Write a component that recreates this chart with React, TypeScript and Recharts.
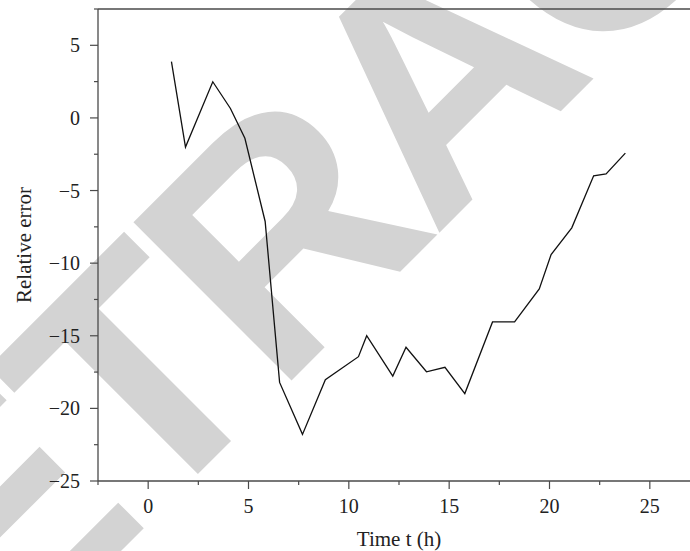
import React from 'react';
import { LineChart, Line, XAxis, YAxis, ReferenceLine } from 'recharts';

// Sampled relative error over time
const timeH = [
  1.16, 1.86, 3.22, 4.1, 4.82, 5.83, 6.55, 7.69, 8.83, 10.48, 10.89, 12.19,
  12.85, 13.87, 14.79, 15.78, 17.16, 18.26, 19.49, 20.08, 21.11, 22.2, 22.82, 23.78,
];
const relErr = [
  3.87, -2.01, 2.49, 0.65, -1.4, -7.13, -18.21, -21.79, -18.02, -16.44, -15.0, -17.78,
  -15.79, -17.48, -17.17, -18.98, -14.05, -14.05, -11.78, -9.41, -7.57, -3.99, -3.85, -2.42,
];

const xTicks = [-2.5, 0, 2.5, 5, 7.5, 10, 12.5, 15, 17.5, 20, 22.5, 25, 27.5];
const yTicks = [-25, -22.5, -20, -17.5, -15, -12.5, -10, -7.5, -5, -2.5, 0, 2.5, 5, 7.5];

const AXIS = '#4a4a4a';
const FONT = '"Liberation Serif", "Times New Roman", serif';

const fmt = (v: number) => (v < 0 ? `\u2212${Math.abs(v)}` : `${v}`);

const XTick = ({ x, y, payload }: any) => {
  const major = payload.value % 5 === 0;
  return (
    <g>
      <line x1={x} x2={x} y1={y} y2={y + (major ? 8 : 4)} stroke={AXIS} strokeWidth={1.2} />
      {major && (
        <text x={x} y={y + 31.5} textAnchor="middle" fontFamily={FONT} fontSize={20} fill="#222">
          {fmt(payload.value)}
        </text>
      )}
    </g>
  );
};

const YTick = ({ x, y, payload }: any) => {
  const major = payload.value % 5 === 0;
  return (
    <g>
      <line x1={x} x2={x - (major ? 8 : 4)} y1={y} y2={y} stroke={AXIS} strokeWidth={1.2} />
      {major && (
        <text x={x - 18} y={y + 7} textAnchor="end" fontFamily={FONT} fontSize={20} fill="#222">
          {fmt(payload.value)}
        </text>
      )}
    </g>
  );
};

const App: React.FC = () => {
  const data = timeH.map((t, i) => ({ t, err: relErr[i] }));

  return (
    <div
      style={{
        position: 'absolute',
        left: 0,
        top: 0,
        width: 690,
        height: 551,
        overflow: 'hidden',
        background: '#fff',
      }}
    >
      {/* watermark behind the chart */}
      <svg width={690} height={551} style={{ position: 'absolute', left: 0, top: 0 }}>
        <text
          x={-158}
          y={830}
          textAnchor="start"
          transform="rotate(-45 -158 830)"
          fontFamily='"Liberation Sans", Arial, sans-serif'
          fontWeight="bold"
          fontSize={325}
          letterSpacing={-12}
          fill="#d3d3d3"
        >
          RETRACTED
        </text>
      </svg>

      <div style={{ position: 'absolute', left: 0, top: 0 }}>
        <LineChart width={720} height={551} data={data} margin={{ top: 9, right: 20, bottom: 0, left: 0 }}>
          <XAxis
            type="number"
            dataKey="t"
            domain={[-2.5, 27.5]}
            ticks={xTicks}
            interval={0}
            allowDataOverflow
            height={70}
            stroke={AXIS}
            strokeWidth={1.3}
            tickLine={false}
            tickSize={0}
            tickMargin={0}
            tick={<XTick />}
            label={{
              content: ({ viewBox }: any) => (
                <text
                  x={viewBox.x + viewBox.width / 2}
                  y={viewBox.y + 65}
                  textAnchor="middle"
                  fontFamily={FONT}
                  fontSize={21}
                  fill="#222"
                >
                  Time t (h)
                </text>
              ),
            }}
          />
          <YAxis
            type="number"
            domain={[-25, 7.5]}
            ticks={yTicks}
            interval={0}
            allowDataOverflow
            width={98}
            stroke={AXIS}
            strokeWidth={1.3}
            tickLine={false}
            tickSize={0}
            tickMargin={0}
            tick={<YTick />}
            label={{
              content: ({ viewBox }: any) => {
                const cy = viewBox.y + viewBox.height / 2;
                return (
                  <text
                    x={31}
                    y={cy}
                    textAnchor="middle"
                    transform={`rotate(-90 31 ${cy})`}
                    fontFamily={FONT}
                    fontSize={21}
                    fill="#222"
                  >
                    Relative error
                  </text>
                );
              },
            }}
          />
          <ReferenceLine y={7.5} stroke={AXIS} strokeWidth={1.3} />
          <Line
            type="linear"
            dataKey="err"
            stroke="#111"
            strokeWidth={1.3}
            dot={false}
            isAnimationActive={false}
          />
        </LineChart>
      </div>
    </div>
  );
};

export default App;
